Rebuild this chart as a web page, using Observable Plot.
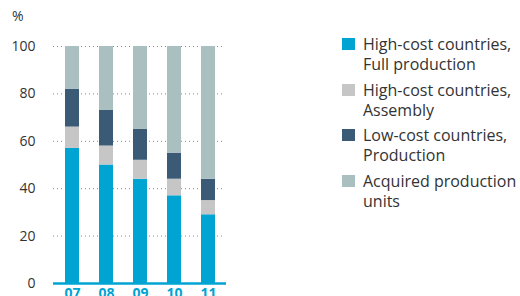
<!DOCTYPE html>
<html>
<head>
<meta charset="utf-8">
<script src="https://cdn.jsdelivr.net/npm/d3@7"></script>
<script src="https://cdn.jsdelivr.net/npm/@observablehq/plot@0.6"></script>
<style>
  body { margin: 0; background: #fff; font-family: "Open Sans", sans-serif; }
  #wrap { position: relative; width: 520px; height: 296px; overflow: hidden; }
  #chart { position: absolute; left: 0; top: 0; }
  #pct { position: absolute; left: 12px; top: 6px; font-size: 14px; color: #333; }
  #legend { position: absolute; left: 342px; top: 34px; }
  .item { position: relative; height: 45.5px; }
  .sw { position: absolute; left: 0; top: 4px; width: 13px; height: 12px; }
  .lab { position: absolute; left: 21px; top: 0; font-size: 16px; line-height: 20px; color: #333; white-space: nowrap; }
</style>
</head>
<body>
<div id="wrap">
  <div id="chart"></div>
  <div id="pct">%</div>
  <div id="legend"></div>
</div>
<script>
const years = ["07", "08", "09", "10", "11"];
const seriesNames = [
  "High-cost countries, Full production",
  "High-cost countries, Assembly",
  "Low-cost countries, Production",
  "Acquired production units"
];
const legendLines = [
  ["High-cost countries,", "Full production"],
  ["High-cost countries,", "Assembly"],
  ["Low-cost countries,", "Production"],
  ["Acquired production", "units"]
];
const colors = ["#00a4d3", "#c6c6c6", "#3a5a75", "#aabfbf"];
const fullProduction = [57, 50, 44, 37, 29];
const assembly = [9, 8, 8, 7, 6];
const lowCost = [16, 15, 13, 11, 9];
const acquired = [18, 27, 35, 45, 56];
const yTicks = [0, 20, 40, 60, 80, 100];

const seriesValues = [fullProduction, assembly, lowCost, acquired];
const data = [];
seriesNames.forEach((s, i) => {
  years.forEach((y, j) => data.push({year: y, series: s, value: seriesValues[i][j]}));
});

const plot = Plot.plot({
  width: 240,
  height: 296,
  marginLeft: 53,
  marginRight: 14,
  marginTop: 46,
  marginBottom: 13,
  style: {fontFamily: "'Open Sans', sans-serif", background: "transparent"},
  x: {domain: years, paddingInner: 0.6, paddingOuter: 0.3, label: null, tickSize: 0},
  y: {domain: [0, 100], label: null},
  color: {domain: seriesNames, range: colors},
  marks: [
    Plot.gridY(yTicks.filter(d => d > 0), {stroke: "#888", strokeOpacity: 1, strokeDasharray: "1,3", strokeWidth: 1, insetRight: 2}),
    Plot.barY(data, Plot.stackY({x: "year", y: "value", fill: "series", order: seriesNames})),
    Plot.axisY({ticks: yTicks, tickSize: 0, tickPadding: 18, fontSize: 14, fill: "#333", label: null}),
    Plot.axisX({tickSize: 0, tickPadding: 5, fontSize: 14, fontWeight: "bold", fill: "#00a4d3", label: null}),
    Plot.ruleY([0], {stroke: "#00a4d3", strokeWidth: 2.5})
  ]
});
document.getElementById("chart").appendChild(plot);

const leg = document.getElementById("legend");
legendLines.forEach((lines, i) => {
  const it = document.createElement("div");
  it.className = "item";
  const sw = document.createElement("div");
  sw.className = "sw";
  sw.style.background = colors[i];
  const lab = document.createElement("div");
  lab.className = "lab";
  lab.innerHTML = lines.join("<br>");
  it.appendChild(sw);
  it.appendChild(lab);
  leg.appendChild(it);
});
</script>
</body>
</html>
